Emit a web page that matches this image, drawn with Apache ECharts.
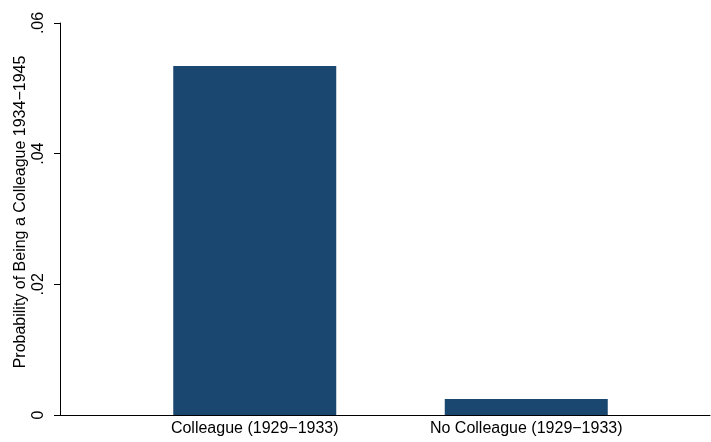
<!DOCTYPE html>
<html><head><meta charset="utf-8">
<script src="https://cdn.jsdelivr.net/npm/echarts@6/dist/echarts.min.js"></script>
<style>html,body{margin:0;padding:0;background:#fff}#c{width:711px;height:442px}</style>
</head><body><div id="c"></div>
<script>
const categories = ['Colleague (1929\u22121933)', 'No Colleague (1929\u22121933)'];
const values = [0.0534, 0.00245];
const yTickValues = [0, 0.02, 0.04, 0.06];
const yTickLabels = ['0', '.02', '.04', '.06'];
const yTitle = 'Probability of Being a Colleague 1934\u22121945';

const font = 'Liberation Sans, Arial, sans-serif';
const chart = echarts.init(document.getElementById('c'));
chart.setOption({
  animation: false,
  backgroundColor: '#fff',
  grid: [
    {left: 60, right: 1, top: 23, bottom: 27},
    {left: 119, right: 49, top: 23, bottom: 27}
  ],
  xAxis: [
    {gridIndex: 0, type: 'value', min: 0, max: 1,
     axisLine: {show: true, lineStyle: {color: '#000', width: 1}},
     axisTick: {show: false}, axisLabel: {show: false}, splitLine: {show: false}},
    {gridIndex: 1, type: 'category', data: categories,
     axisLine: {show: false}, axisTick: {show: false},
     axisLabel: {color: '#000', fontFamily: font, fontSize: 16, margin: 6}}
  ],
  yAxis: [
    {gridIndex: 0, type: 'value', min: 0, max: 0.06, interval: 0.02,
     name: yTitle, nameLocation: 'middle', nameGap: 31, nameRotate: 90, nameMoveOverlap: false,
     nameTextStyle: {color: '#000', fontFamily: font, fontSize: 16, padding: [0, 0, 0, 14]},
     axisLine: {show: true, lineStyle: {color: '#000', width: 1}},
     axisTick: {show: true, length: 6, lineStyle: {color: '#000'}},
     axisLabel: {color: '#000', fontFamily: font, fontSize: 16, rotate: 90, margin: 13,
       formatter: v => { const i = yTickValues.findIndex(t => Math.abs(t - v) < 1e-9); return i >= 0 ? yTickLabels[i] : ''; }},
     splitLine: {show: false}},
    {gridIndex: 1, type: 'value', min: 0, max: 0.06, show: false, splitLine: {show: false}}
  ],
  series: [{
    type: 'bar', xAxisIndex: 1, yAxisIndex: 1, data: values,
    barWidth: 163, itemStyle: {color: '#1a476f'}
  }]
});
</script></body></html>
